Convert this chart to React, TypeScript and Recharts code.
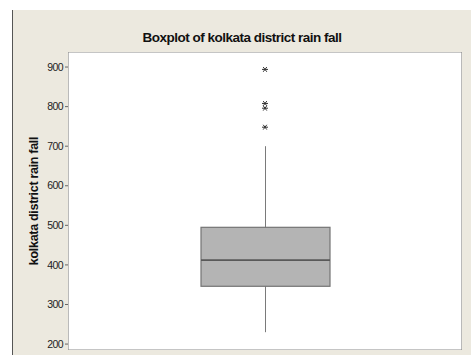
import React from 'react';
import {
  ComposedChart, Bar, Scatter, XAxis, YAxis, ReferenceArea, Label,
} from 'recharts';

// five-number summary of the district rainfall
const CATEGORY = ['rain fall'];
const WHISKER = [230, 700];
const QUARTILES = [346, 412, 495]; // Q1, median, Q3
const OUTLIERS = [894, 808, 796, 748];
const Y_TICKS = [200, 300, 400, 500, 600, 700, 800, 900];

const BOX_DATA = [
  {
    name: CATEGORY[0],
    whisker: WHISKER,
    box: [QUARTILES[0], QUARTILES[2]],
    median: [QUARTILES[0], QUARTILES[1]],
  },
];
const OUTLIER_DATA = OUTLIERS.map((v) => ({ name: CATEGORY[0], v }));

const BG = '#ECE9DF';

const WhiskerShape = (props: any) => {
  const { x, y, width, height } = props;
  const cx = x + width / 2;
  return <line x1={cx} x2={cx} y1={y} y2={y + height} stroke="#7a7a7a" strokeWidth={1} />;
};

const BoxShape = (props: any) => {
  const { x, y, width, height } = props;
  return (
    <rect x={x} y={y} width={width} height={height} fill="#B4B4B4" stroke="#747474" strokeWidth={1.2} />
  );
};

// only the top edge of the Q1..median range is drawn: the median line
const MedianShape = (props: any) => {
  const { x, y, width } = props;
  return <line x1={x} x2={x + width} y1={y} y2={y} stroke="#595959" strokeWidth={1.6} />;
};

const Asterisk = (props: any) => {
  const { cx, cy } = props;
  const r = 3;
  return (
    <g stroke="#333" strokeWidth={1}>
      <line x1={cx - r} x2={cx + r} y1={cy} y2={cy} />
      <line x1={cx - r * 0.6} x2={cx + r * 0.6} y1={cy - r * 0.8} y2={cy + r * 0.8} />
      <line x1={cx - r * 0.6} x2={cx + r * 0.6} y1={cy + r * 0.8} y2={cy - r * 0.8} />
    </g>
  );
};

const App: React.FC = () => {
  return (
    <div style={{ position: 'absolute', left: 0, top: 0, width: 471, height: 355, background: '#fff' }}>
      <div
        style={{
          position: 'absolute', left: 12, top: 10, width: 459, height: 345,
          background: BG, borderLeft: '1px solid #555',
        }}
      >
        <div
          style={{
            position: 'absolute', left: 0, top: 20, width: 458, textAlign: 'center',
            fontFamily: '"Liberation Sans", Arial, sans-serif', fontWeight: 'bold',
            fontSize: 13.5, letterSpacing: -0.5, color: '#111',
          }}
        >
          Boxplot of kolkata district rain fall
        </div>
        <ComposedChart
          width={458}
          height={345}
          data={BOX_DATA}
          margin={{ top: 42, right: 9, bottom: 5, left: 0 }}
          barGap={-129}
        >
          <XAxis dataKey="name" hide allowDuplicatedCategory={false} />
          <YAxis
            type="number"
            domain={[185, 938]}
            ticks={Y_TICKS}
            allowDataOverflow
            width={55}
            axisLine={false}
            tickSize={3}
            tickMargin={2}
            tickLine={{ stroke: '#666' }}
            tick={{ fill: '#222', fontSize: 10.5, fontFamily: '"Liberation Sans Narrow", "Liberation Sans", sans-serif', letterSpacing: -0.6 }}
          >
            <Label
              value="kolkata district rain fall"
              angle={-90}
              position="center"
              dx={-7}
              style={{ fontFamily: '"Liberation Sans", Arial, sans-serif', fontWeight: 'bold', fontSize: 12.5, letterSpacing: -0.3, fill: '#111' }}
            />
          </YAxis>
          <ReferenceArea y1={185} y2={938} fill="#fff" fillOpacity={1} stroke="#8c8c8c" strokeWidth={1.2} ifOverflow="hidden" />
          <Bar dataKey="whisker" barSize={129} shape={<WhiskerShape />} isAnimationActive={false} />
          <Bar dataKey="box" barSize={129} shape={<BoxShape />} isAnimationActive={false} />
          <Bar dataKey="median" barSize={129} shape={<MedianShape />} isAnimationActive={false} />
          <Scatter data={OUTLIER_DATA} dataKey="v" shape={<Asterisk />} isAnimationActive={false} />
        </ComposedChart>
      </div>
    </div>
  );
};

export default App;
